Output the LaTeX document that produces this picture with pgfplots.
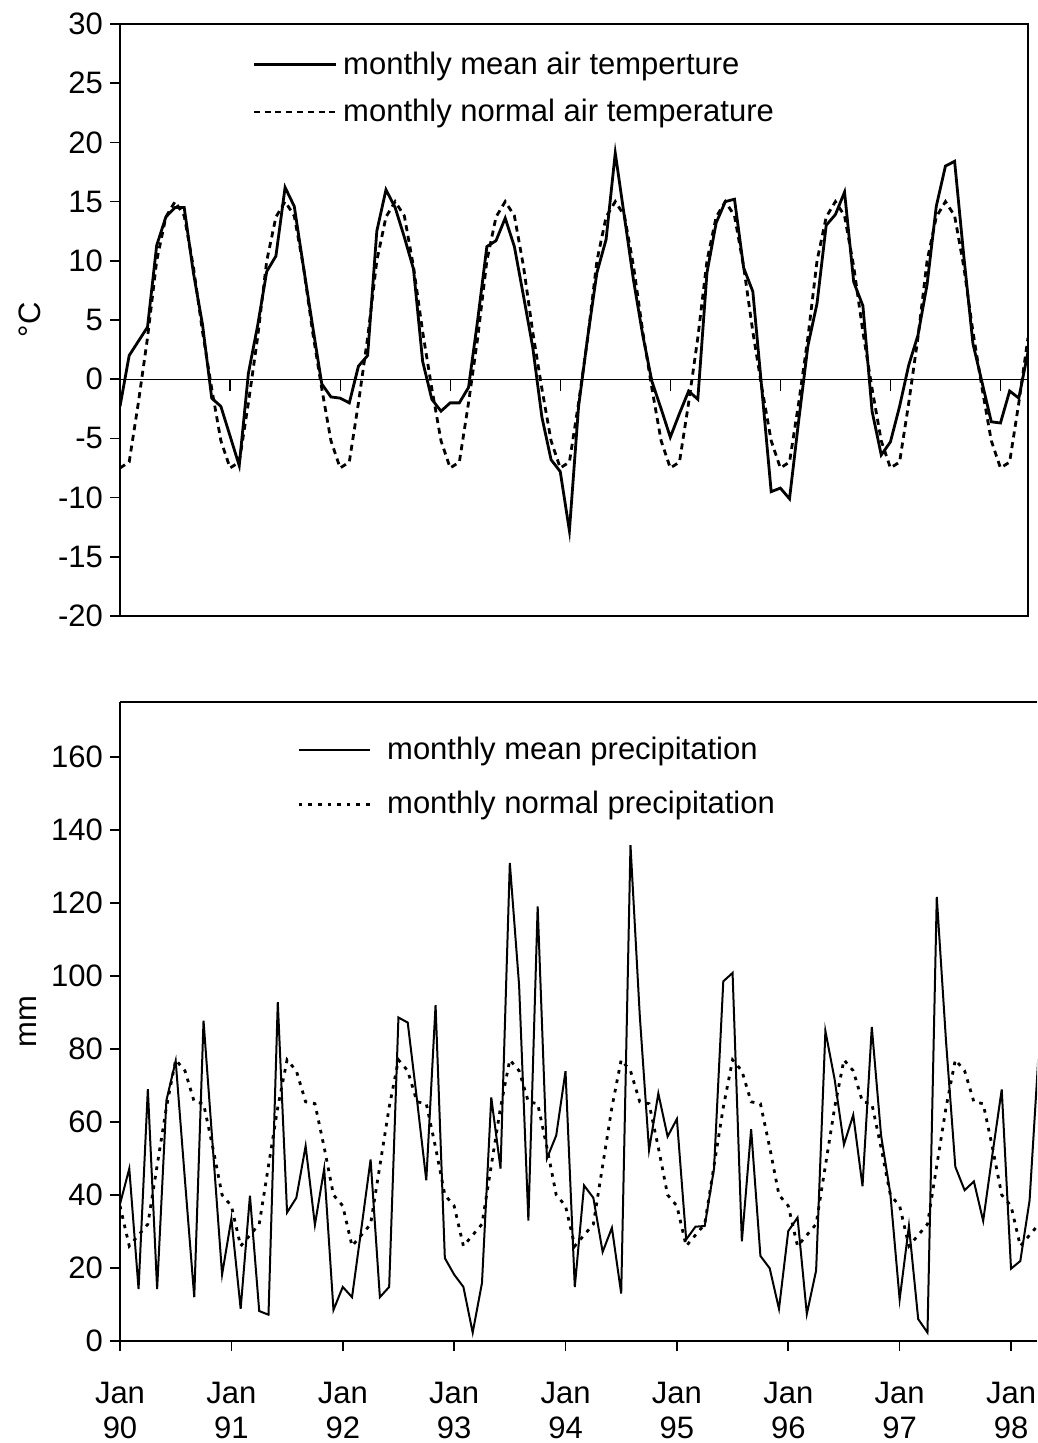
\documentclass[border=0pt]{standalone}
\usepackage{fontspec}
\setmainfont{Liberation Sans}
\usepackage{pgfplots}
\pgfplotsset{compat=1.18}

\newcommand\chartfont{\fontsize{15.5}{17.5}\selectfont}

% monthly mean air temperature, Jan 90 .. Apr 98 (month index 0..99)
\pgfplotstableread{
m T
0 -2.3
1 2.0
2 3.2
3 4.4
4 11.3
5 13.7
6 14.5
7 14.5
8 9.0
9 4.6
10 -1.6
11 -2.3
12 -4.8
13 -7.3
14 0.5
15 4.5
16 9.1
17 10.4
18 16.2
19 14.6
20 9.5
21 4.5
22 -0.4
23 -1.5
24 -1.6
25 -2.0
26 1.1
27 2.0
28 12.5
29 16.0
30 14.5
31 12.0
32 9.3
33 1.5
34 -1.7
35 -2.7
36 -2.0
37 -2.0
38 -0.7
39 5.0
40 11.2
41 11.7
42 13.6
43 11.2
44 7.0
45 2.7
46 -3.2
47 -6.8
48 -7.8
49 -12.8
50 -2.3
51 3.6
52 9.0
53 11.8
54 19.1
55 13.7
56 8.3
57 3.7
58 -0.2
59 -2.5
60 -4.9
61 -2.9
62 -1.0
63 -1.7
64 9.0
65 13.2
66 15.0
67 15.2
68 9.4
69 7.4
70 -1.0
71 -9.5
72 -9.2
73 -10.1
74 -3.5
75 2.8
76 6.4
77 13.0
78 13.9
79 15.8
80 8.2
81 6.2
82 -2.7
83 -6.4
84 -5.3
85 -2.3
86 1.2
87 3.7
88 8.0
89 14.6
90 18.0
91 18.4
92 10.4
93 3.0
94 -0.3
95 -3.6
96 -3.7
97 -1.0
98 -1.6
99 2.3
}\tempmean

% monthly normal air temperature
\pgfplotstableread{
m T
0 -7.5
1 -7.0
2 -2.0
3 3.5
4 10.0
5 13.7
6 15.0
7 13.8
8 9.5
9 4.0
10 -0.8
11 -5.2
12 -7.5
13 -7.0
14 -2.0
15 3.5
16 10.0
17 13.7
18 15.0
19 13.8
20 9.5
21 4.0
22 -0.8
23 -5.2
24 -7.5
25 -7.0
26 -2.0
27 3.5
28 10.0
29 13.7
30 15.0
31 13.8
32 9.5
33 4.0
34 -0.8
35 -5.2
36 -7.5
37 -7.0
38 -2.0
39 3.5
40 10.0
41 13.7
42 15.0
43 13.8
44 9.5
45 4.0
46 -0.8
47 -5.2
48 -7.5
49 -7.0
50 -2.0
51 3.5
52 10.0
53 13.7
54 15.0
55 13.8
56 9.5
57 4.0
58 -0.8
59 -5.2
60 -7.5
61 -7.0
62 -2.0
63 3.5
64 10.0
65 13.7
66 15.0
67 13.8
68 9.5
69 4.0
70 -0.8
71 -5.2
72 -7.5
73 -7.0
74 -2.0
75 3.5
76 10.0
77 13.7
78 15.0
79 13.8
80 9.5
81 4.0
82 -0.8
83 -5.2
84 -7.5
85 -7.0
86 -2.0
87 3.5
88 10.0
89 13.7
90 15.0
91 13.8
92 9.5
93 4.0
94 -0.8
95 -5.2
96 -7.5
97 -7.0
98 -2.0
99 3.5
}\tempnorm

% monthly mean precipitation
\pgfplotstableread{
m P
0 37.5
1 47.2
2 14.2
3 69.0
4 14.2
5 65.9
6 76.7
7 44.0
8 12.0
9 87.7
10 53.0
11 18.2
12 33.5
13 8.8
14 39.8
15 8.2
16 7.2
17 92.8
18 35.2
19 39.2
20 53.4
21 31.8
22 47.2
23 8.5
24 14.8
25 12.0
26 30.7
27 49.7
28 12.0
29 14.8
30 88.6
31 87.2
32 66.0
33 44.0
34 92.0
35 22.7
36 18.2
37 14.8
38 2.3
39 15.9
40 66.7
41 47.2
42 130.9
43 97.4
44 33.0
45 119.0
46 50.0
47 56.3
48 73.9
49 14.8
50 42.6
51 39.2
52 24.4
53 31.0
54 13.0
55 135.8
56 89.2
57 52.3
58 67.8
59 56.0
60 60.8
61 27.8
62 31.3
63 31.5
64 47.2
65 98.5
66 100.8
67 27.3
68 58.0
69 23.3
70 19.9
71 8.8
72 30.1
73 33.8
74 7.4
75 19.3
76 84.9
77 71.6
78 53.8
79 61.9
80 42.4
81 86.0
82 56.3
83 40.3
84 11.4
85 31.5
86 6.0
87 2.3
88 121.6
89 82.0
90 47.7
91 41.3
92 43.7
93 32.9
94 51.2
95 68.9
96 19.8
97 21.9
98 38.5
99 80.0
}\precmean

% monthly normal precipitation
\pgfplotstableread{
m P
0 37
1 26
2 29
3 32
4 48
5 64
6 77
7 74
8 65.5
9 65
10 53
11 40
12 37
13 26
14 29
15 32
16 48
17 64
18 77
19 74
20 65.5
21 65
22 53
23 40
24 37
25 26
26 29
27 32
28 48
29 64
30 77
31 74
32 65.5
33 65
34 53
35 40
36 37
37 26
38 29
39 32
40 48
41 64
42 77
43 74
44 65.5
45 65
46 53
47 40
48 37
49 26
50 29
51 32
52 48
53 64
54 77
55 74
56 65.5
57 65
58 53
59 40
60 37
61 26
62 29
63 32
64 48
65 64
66 77
67 74
68 65.5
69 65
70 53
71 40
72 37
73 26
74 29
75 32
76 48
77 64
78 77
79 74
80 65.5
81 65
82 53
83 40
84 37
85 26
86 29
87 32
88 48
89 64
90 77
91 74
92 65.5
93 65
94 53
95 40
96 37
97 26
98 29
99 32
}\precnorm

\begin{document}
\begin{tikzpicture}
\path[use as bounding box] (0pt,0pt) rectangle (518.5pt,721.5pt);

% ---------- temperature ----------
\begin{axis}[
  at={(60pt,413.5pt)}, anchor=south west,
  scale only axis, width=454pt, height=296pt,
  xmin=0, xmax=99, ymin=-20, ymax=30,
  xtick=\empty,
  ytick={-20,-15,...,30},
  yticklabels={-20,-15,-10,-5,0,5,10,15,20,25,30},
  ytick pos=left, tick align=outside, major tick length=5pt,
  tick style={black, line width=0.8pt},
  axis line style={line width=1pt},
  tick label style={font=\chartfont},
  ylabel={°C}, ylabel style={font=\chartfont, at={(axis description cs:-0.099,0.5)}, anchor=center},
  legend style={at={(axis description cs:0.1454,0.957)}, anchor=north west,
    draw=none, fill=none, font=\chartfont, inner sep=0pt, row sep=9pt,
    nodes={inner ysep=1pt, inner xsep=2pt},
    /tikz/every odd column/.append style={column sep=1pt}},
  legend cell align=left,
  legend image code/.code={\draw[#1] (0pt,0pt) -- (41pt,0pt);},
]
\addplot[black, line width=1.4pt] table[x=m, y=T] {\tempmean};
\addlegendentry{monthly mean air temperture}
\addplot[black, line width=1.4pt, dash pattern=on 3pt off 2.4pt] table[x=m, y=T] {\tempnorm};
\addlegendentry{monthly normal air temperature}
\end{axis}
% zero line with year ticks
\begin{axis}[
  at={(60pt,413.5pt)}, anchor=south west,
  scale only axis, width=454pt, height=296pt,
  xmin=0, xmax=99, ymin=-20, ymax=30,
  axis x line=middle, axis y line=none,
  x axis line style={-, line width=0.6pt},
  xtick={0,12,...,96}, xticklabels={},
  tick align=outside, major tick length=6pt,
  tick style={black, line width=0.6pt},
]
\end{axis}

% ---------- precipitation ----------
\begin{axis}[
  at={(60pt,51pt)}, anchor=south west,
  scale only axis, width=458.5pt, height=319.5pt,
  xmin=0, xmax=98.8, ymin=0, ymax=175,
  axis x line*=box, axis y line*=left,
  x axis line style={-, line width=0.6pt},
  y axis line style={-, line width=1pt},
  xtick={0,12,...,96}, xtick pos=bottom,
  xticklabels={{Jan\\90},{Jan\\91},{Jan\\92},{Jan\\93},{Jan\\94},{Jan\\95},{Jan\\96},{Jan\\97},{Jan\\98}},
  xticklabel style={align=center, font=\chartfont, yshift=-12pt},
  ytick={0,20,...,160}, ytick pos=left,
  yticklabels={0,20,40,60,80,100,120,140,160},
  tick align=outside, major tick length=5pt,
  tick style={black, line width=0.8pt},
  tick label style={font=\chartfont},
  ylabel={mm}, ylabel style={font=\chartfont, at={(axis description cs:-0.100,0.5)}, anchor=center},
  legend style={at={(axis description cs:0.193,0.949)}, anchor=north west,
    draw=none, fill=none, font=\chartfont, inner sep=0pt, row sep=12.5pt,
    nodes={inner ysep=1pt, inner xsep=2pt},
    /tikz/every odd column/.append style={column sep=6pt}},
  legend cell align=left,
  legend image code/.code={\draw[#1] (0pt,0pt) -- (35.5pt,0pt);},
]
\addplot[black, line width=1pt] table[x=m, y=P] {\precmean};
\addlegendentry{monthly mean precipitation}
\addplot[black, line width=1.4pt, dash pattern=on 1.8pt off 3pt] table[x=m, y=P] {\precnorm};
\addlegendentry{monthly normal precipitation}
\draw[line width=1.5pt] (rel axis cs:0,0) -- (rel axis cs:1,0);
\end{axis}
\end{tikzpicture}
\end{document}
